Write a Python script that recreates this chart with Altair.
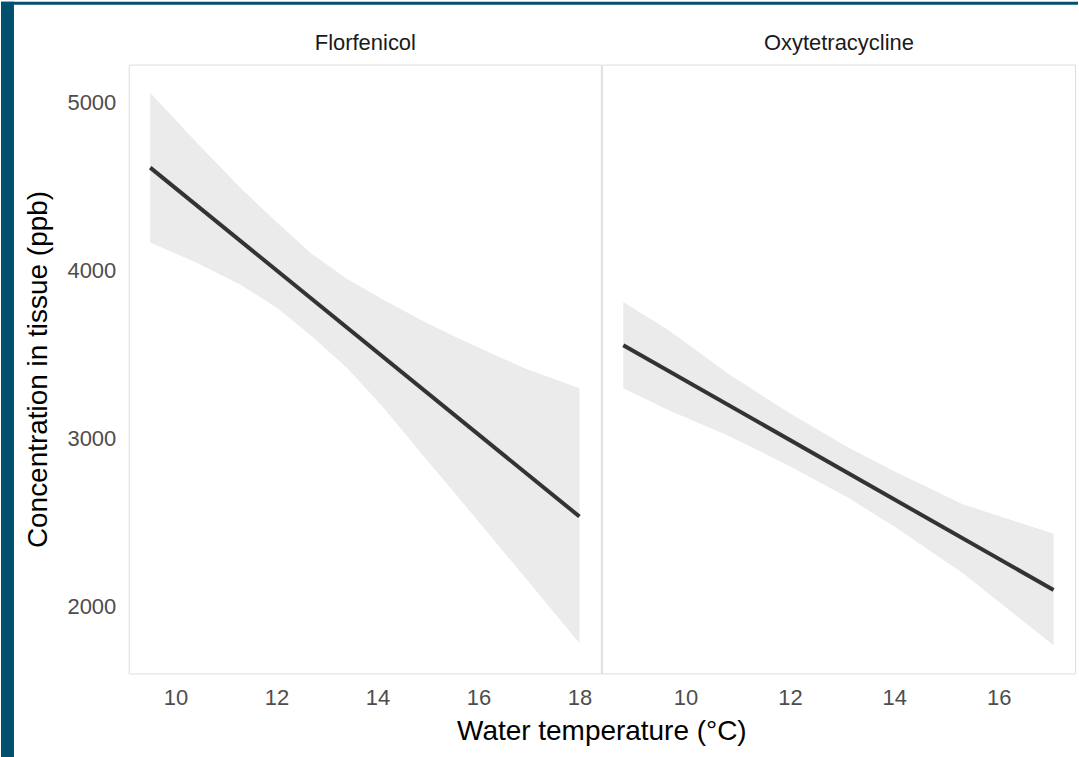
import altair as alt
import pandas as pd

# ---------------- data ----------------
drugs = ["Florfenicol", "Oxytetracycline"]

flor_temp = [9.5, 10.4, 11.3, 12.0, 12.7, 13.4, 14.1, 14.9, 15.6, 16.9, 18.0]
flor_upper = [5060, 4770, 4490, 4290, 4100, 3950, 3830, 3700, 3598, 3420, 3300]
flor_lower = [4168, 4050, 3915, 3780, 3610, 3420, 3190, 2900, 2650, 2180, 1780]
flor_fit_temp = [9.5, 18.0]
flor_fit = [4614, 2535]

oxy_temp = [8.81, 9.7, 10.8, 12.0, 13.1, 14.0, 15.3, 17.05]
oxy_upper = [3814, 3640, 3390, 3150, 2950, 2805, 2610, 2432]
oxy_lower = [3299, 3165, 3020, 2835, 2650, 2475, 2200, 1768]
oxy_fit_temp = [8.81, 17.05]
oxy_fit = [3556, 2097]

x_ticks = [10, 12, 14, 16, 18]
y_ticks = [2000, 3000, 4000, 5000]
y_domain = [1600, 5228]
flor_x_domain = [9.075, 18.425]
oxy_x_domain = [8.40, 17.46]

x_title = "Water temperature (°C)"
y_title = "Concentration in tissue (ppb)"

FONT = "Liberation Sans"
TEAL = "#02506f"
BAND = "#ebebeb"
LINE = "#333333"
PANEL_H = 610


def panel(name, temp, upper, lower, fit_temp, fit, xdom, width, first):
    band_df = pd.DataFrame({"temp": temp, "upper": upper, "lower": lower})
    fit_df = pd.DataFrame({"temp": fit_temp, "fit": fit})
    xscale = alt.Scale(domain=xdom, nice=False, zero=False)
    yscale = alt.Scale(domain=y_domain, nice=False, zero=False)

    xaxis_kw = dict(values=x_ticks, grid=False, ticks=False, tickSize=0, domain=False,
                    labelFontSize=22, labelColor="#4d4d4d", labelPadding=14,
                    labelFont=FONT)
    if first:
        xaxis = alt.Axis(title=x_title, titleFont=FONT, titleFontSize=28,
                         titleFontWeight="normal", titleColor="#000000",
                         titleX=width + 0.5, titleY=66.5, titleAlign="center",
                         titleBaseline="alphabetic", **xaxis_kw)
        yaxis = alt.Axis(values=y_ticks, format="d", title=y_title, grid=False,
                         ticks=False, tickSize=0, domain=False, labelFontSize=22,
                         labelColor="#4d4d4d", labelPadding=13, labelFont=FONT,
                         titleFont=FONT, titleFontSize=28, titleFontWeight="normal",
                         titleColor="#000000", titleX=-82, titleY=PANEL_H / 2,
                         titleBaseline="alphabetic", titleAlign="center")
    else:
        xaxis = alt.Axis(title=None, **xaxis_kw)
        yaxis = None

    band = alt.Chart(band_df).mark_area(color=BAND, opacity=1).encode(
        x=alt.X("temp:Q", scale=xscale, axis=xaxis),
        y=alt.Y("upper:Q", scale=yscale, axis=yaxis),
        y2="lower:Q",
    )
    line = alt.Chart(fit_df).mark_line(color=LINE, strokeWidth=4).encode(
        x=alt.X("temp:Q", scale=xscale,
                axis=alt.Axis(orient="top", labels=False, ticks=False, domain=False,
                              grid=False, title=name, titleFont=FONT,
                              titleFontSize=22, titleFontWeight="normal",
                              titleColor="#1a1a1a", titleBaseline="alphabetic",
                              titleY=-15, titlePadding=0)),
        y=alt.Y("fit:Q", scale=yscale, axis=yaxis),
    )
    layers = [band, line]
    if first:
        strip_df = pd.DataFrame({"k": [0]})
        left_strip = alt.Chart(strip_df).mark_rect(color=TEAL).encode(
            x=alt.value(-128), x2=alt.value(-115),
            y=alt.value(-63), y2=alt.value(694))
        top_strip = alt.Chart(strip_df).mark_rect(color=TEAL).encode(
            x=alt.value(-128), x2=alt.value(951),
            y=alt.value(-63), y2=alt.value(-60))
        layers += [left_strip, top_strip]
    return alt.layer(*layers).resolve_axis(x="independent").properties(
        width=width, height=PANEL_H)


p1 = panel(drugs[0], flor_temp, flor_upper, flor_lower, flor_fit_temp, flor_fit,
           flor_x_domain, 473, True)
p2 = panel(drugs[1], oxy_temp, oxy_upper, oxy_lower, oxy_fit_temp, oxy_fit,
           oxy_x_domain, 474, False)

chart = alt.hconcat(p1, p2, spacing=1, bounds="flush").properties(
    padding=0, background="white"
).configure_view(stroke="#c8c8c8", strokeWidth=1.5).configure(font=FONT)

chart.save("out.html", embed_options={"renderer": "svg", "actions": False})
